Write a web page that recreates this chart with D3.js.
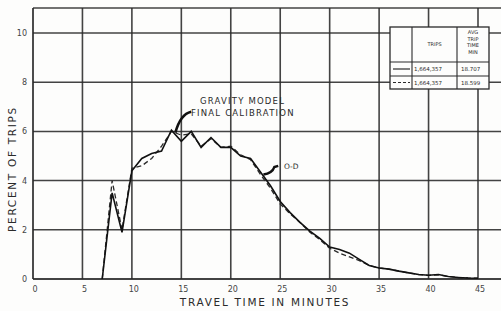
<!DOCTYPE html>
<html><head><meta charset="utf-8">
<script src="https://cdn.jsdelivr.net/npm/d3@7"></script>
<style>
html,body{margin:0;padding:0;background:#fdfdfc;}
svg{display:block;font-family:"DejaVu Sans",sans-serif;}
</style></head>
<body><svg id="c" width="501" height="311"></svg>
<script>
const minutes = [7,8,9,10,11,12,13,14,15,16,17,18,19,20,21,22,23,24,25,26,27,28,29,30,31,32,33,34,35,36,37,38,39,40,41,42,43,44,45];
const odPercent = [0,3.5,1.9,4.4,4.9,5.1,5.2,6.05,5.6,6.0,5.35,5.75,5.35,5.35,5.0,4.9,4.35,3.8,3.15,2.7,2.3,1.95,1.65,1.3,1.2,1.05,0.8,0.55,0.45,0.4,0.32,0.25,0.18,0.15,0.18,0.1,0.06,0.04,0.03];
const gravityPercent = [0,4.0,2.0,4.5,4.6,4.9,5.4,6.0,5.85,5.9,5.4,5.7,5.35,5.4,5.05,4.85,4.25,3.7,3.05,2.65,2.3,1.9,1.6,1.25,1.05,0.9,0.75,0.55,0.45,0.4,0.32,0.25,0.18,0.15,0.17,0.1,0.06,0.04,0.03];
const xTicks = [0,5,10,15,20,25,30,35,40,45];
const yTicks = [0,2,4,6,8,10];
const legendHeader = ["", "TRIPS", "AVG\nTRIP\nTIME\nMIN"];
const legendRows = [["solid","1,664,357","18.707"],["dashed","1,664,357","18.599"]];
const annotGravity = ["GRAVITY MODEL","FINAL CALIBRATION"];
const annotOD = "O-D";

const svg = d3.select("#c");
const W = 501, plotTop = 8;
const x = d3.scaleLinear().domain([0,45]).range([33,478]);
const y = d3.scaleLinear().domain([0,10]).range([279,33]);
const ink = "#2a2a2a";

// grid
const g = svg.append("g");
g.selectAll(".h").data(yTicks).join("line")
  .attr("x1", x(0)).attr("x2", W).attr("y1", d=>y(d)).attr("y2", d=>y(d))
  .attr("stroke", ink).attr("stroke-width", d=>d===0?1.9:1.5).attr("opacity",0.88);
g.selectAll(".v").data(xTicks).join("line")
  .attr("x1", d=>x(d)).attr("x2", d=>x(d)).attr("y1", plotTop).attr("y2", y(0))
  .attr("stroke", ink).attr("stroke-width", d=>d===0?1.9:1.6).attr("opacity",0.88);
g.append("line").attr("x1", x(0)).attr("x2", W).attr("y1", plotTop).attr("y2", plotTop)
  .attr("stroke", ink).attr("stroke-width", 1.6).attr("opacity",0.88);

// axes labels
svg.selectAll(".yl").data(yTicks).join("text")
  .attr("x", 27).attr("y", d=>y(d)+3).attr("text-anchor","end")
  .attr("font-size", 8).attr("fill", "#444").text(d=>d);
svg.selectAll(".xl").data(xTicks).join("text")
  .attr("x", d=>x(d)+2).attr("y", 292).attr("text-anchor","middle")
  .attr("font-size", 8).attr("fill", "#444").text(d=>d);
svg.append("text").attr("x", 265).attr("y", 306).attr("text-anchor","middle")
  .attr("font-size", 10.5).attr("letter-spacing", 1.7).attr("fill", ink)
  .text("TRAVEL TIME IN MINUTES");
svg.append("text").attr("transform","translate(16,169) rotate(-90)")
  .attr("text-anchor","middle").attr("font-size", 10.5).attr("letter-spacing", 1.7)
  .attr("fill", ink).text("PERCENT OF TRIPS");

// lines
const line = d3.line().x((d,i)=>x(minutes[i])).y(d=>y(d));
svg.append("path").attr("d", line(gravityPercent)).attr("fill","none")
  .attr("stroke", ink).attr("stroke-width", 1.3).attr("stroke-dasharray","5,3");
svg.append("path").attr("d", line(odPercent)).attr("fill","none")
  .attr("stroke", "#111").attr("stroke-width", 1.6);

// annotations
svg.append("path").attr("d", `M${x(14.4)},${y(5.95)} Q${x(14.9)},${y(6.7)} ${x(16)},${y(6.8)}`)
  .attr("fill","none").attr("stroke","#111").attr("stroke-width",2.6);
svg.selectAll(".ag").data(annotGravity).join("text")
  .attr("x", (d,i)=> i===0 ? 200 : 191).attr("y", (d,i)=>104 + i*12)
  .attr("font-size", 8.5).attr("letter-spacing", 1.2).attr("fill", ink).text(d=>d);
svg.append("path").attr("d", `M${x(23.3)},${y(4.25)} Q${x(24.2)},${y(4.3)} ${x(24.4)},${y(4.55)} L${x(24.8)},${y(4.6)}`)
  .attr("fill","none").attr("stroke","#111").attr("stroke-width",2.4);
svg.append("text").attr("x", 284).attr("y", 169).attr("font-size", 7.5)
  .attr("fill", ink).text(annotOD);

// legend table
const L = {cols:[390,412,457,489], rows:[27,62,76,89]};
const lg = svg.append("g");
lg.append("rect").attr("x", L.cols[0]).attr("y", L.rows[0])
  .attr("width", L.cols[3]-L.cols[0]).attr("height", L.rows[3]-L.rows[0])
  .attr("fill","#fdfdfc").attr("stroke", ink).attr("stroke-width",1.3);
lg.selectAll(".lc").data(L.cols.slice(1,3)).join("line")
  .attr("x1", d=>d).attr("x2", d=>d).attr("y1", L.rows[0]).attr("y2", L.rows[3])
  .attr("stroke", ink).attr("stroke-width",1.1);
lg.selectAll(".lr").data(L.rows.slice(1,3)).join("line")
  .attr("x1", L.cols[0]).attr("x2", L.cols[3]).attr("y1", d=>d).attr("y2", d=>d)
  .attr("stroke", ink).attr("stroke-width",1.1);
lg.append("text").attr("x", (L.cols[1]+L.cols[2])/2).attr("y", 46).attr("text-anchor","middle")
  .attr("font-size", 5).attr("fill", ink).text(legendHeader[1]);
legendHeader[2].split("\n").forEach((t,i)=>{
  lg.append("text").attr("x", (L.cols[2]+L.cols[3])/2).attr("y", 34 + i*6.5).attr("text-anchor","middle")
    .attr("font-size", 5).attr("fill", ink).text(t);
});
legendRows.forEach((r,i)=>{
  const yy = (L.rows[i+1]+L.rows[i+2])/2;
  lg.append("line").attr("x1", L.cols[0]+3).attr("x2", L.cols[1]-2).attr("y1", yy).attr("y2", yy)
    .attr("stroke", ink).attr("stroke-width", 1.2).attr("stroke-dasharray", r[0]==="dashed"?"3,2":null);
  lg.append("text").attr("x", L.cols[1]+2).attr("y", yy+2).attr("font-size", 5.5).attr("fill", ink).text(r[1]);
  lg.append("text").attr("x", L.cols[2]+4).attr("y", yy+2).attr("font-size", 5.5).attr("fill", ink).text(r[2]);
});
</script></body></html>
